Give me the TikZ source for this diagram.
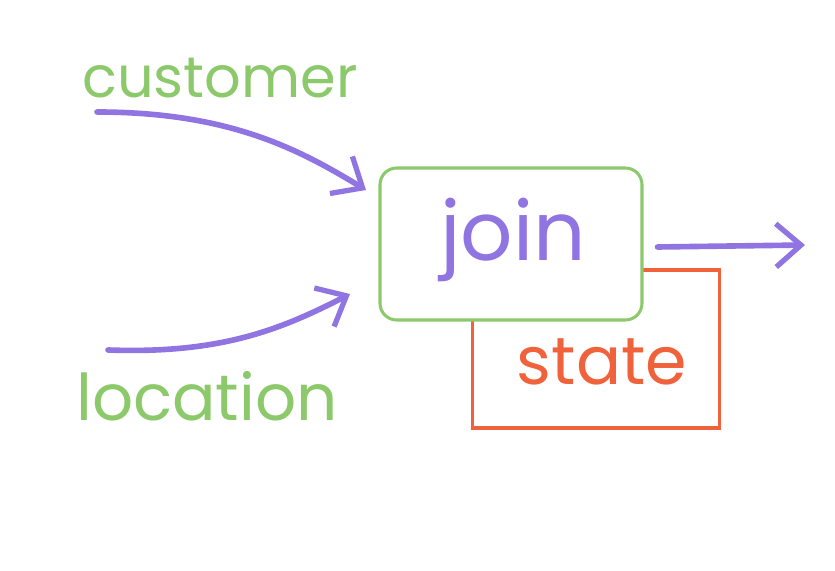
\documentclass[tikz,border=0pt]{standalone}
\usepackage{fontspec}
\setmainfont{Poppins}
\usetikzlibrary{arrows.meta,positioning,calc}

\definecolor{sketchgreen}{HTML}{8CC96B}
\definecolor{sketchpurple}{HTML}{9075E2}
\definecolor{sketchred}{HTML}{F0623C}

\begin{document}
\begin{tikzpicture}[
  x=0.03cm, y=-0.03cm,
  every node/.style={inner sep=0pt},
  word/.style={font=\fontsize{49}{51}\selectfont},
  box/.style={rectangle, draw, line width=2.6pt},
  ar/.style={-{Straight Barb[length=0.75cm, width=1.3cm, line width=4.5pt]}, line width=4.8pt, line cap=round, sketchpurple}
]
  \useasboundingbox (0,0) rectangle (835,571);
  % boxes
  \node[box, draw=sketchred, minimum width=7.41cm, minimum height=4.74cm] (statebox) at (596,349) {};
  \node[box, draw=sketchgreen, fill=white, rounded corners=0.5cm, minimum width=7.86cm, minimum height=4.56cm] (join) at (511,244) {};
  % labels
  \node[word, text=sketchpurple, font=\fontsize{70}{72}\selectfont] (joinlbl) at (513,240) {join};
  \node[word, text=sketchred, font=\fontsize{57}{59}\selectfont] (statelbl) at (602,362) {state};
  \node[word, text=sketchgreen] (customer) at (220,78) {customer};
  \node[word, text=sketchgreen, font=\fontsize{55}{57}\selectfont] (location) at (207,396) {location};
  % free ends
  \coordinate (cstart) at (97,112);
  \coordinate (cend) at (366,190);
  \coordinate (lstart) at (108,350);
  \coordinate (lend) at (350,294);
  \coordinate (outend) at (805,245);
  % arrows
  \draw[ar] (cstart) .. controls (230,112) and (300,150) .. (cend);
  \draw[ar] (lstart) .. controls (220,354) and (280,330) .. (lend);
  \draw[ar] (join.east) ++(14,3) -- (outend);
\end{tikzpicture}
\end{document}
